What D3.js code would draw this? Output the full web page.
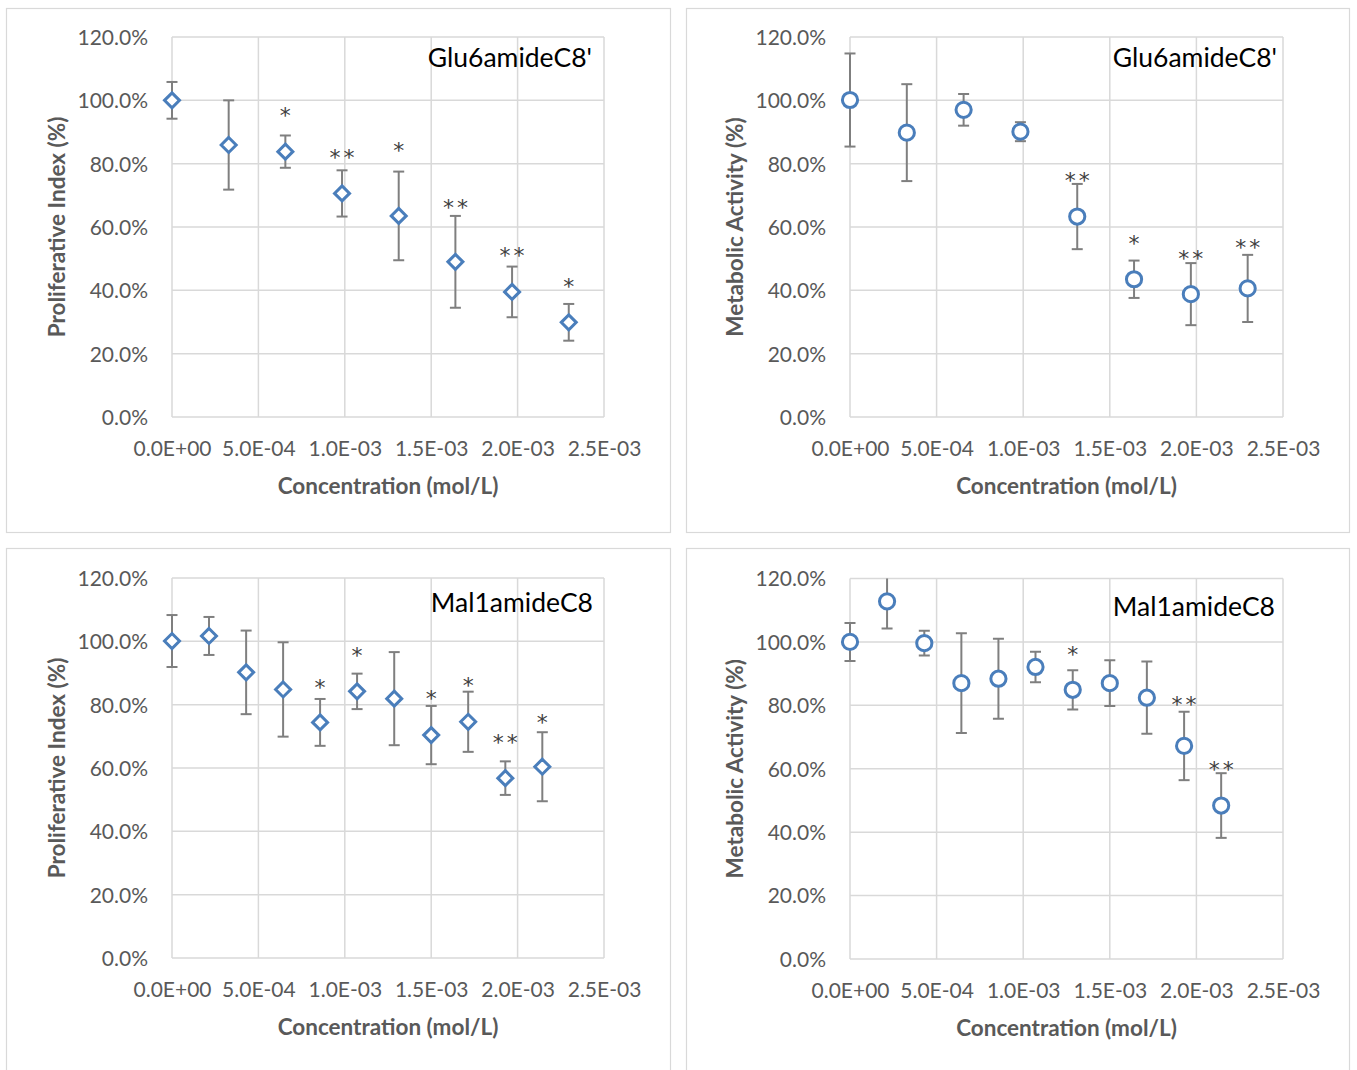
<!DOCTYPE html>
<html>
<head>
<meta charset="utf-8">
<script src="https://cdn.jsdelivr.net/npm/d3@7"></script>
<style>
  html, body { margin: 0; padding: 0; background: #ffffff; }
  svg { display: block; }
</style>
</head>
<body>
<svg id="chart" width="1357" height="1070"></svg>
<script>
// ---------------- DATA ----------------
const xTicks = [0, 0.0005, 0.001, 0.0015, 0.002, 0.0025];
const yTicks = [0, 20, 40, 60, 80, 100, 120];

const gluConc = [0, 3.28e-4, 6.56e-4, 9.84e-4, 1.312e-3, 1.64e-3, 1.968e-3, 2.296e-3];
const gluProlif = [100.0, 85.9, 83.8, 70.6, 63.5, 49.0, 39.5, 29.9];
const gluProlifErr = [5.8, 14.1, 5.1, 7.3, 14.0, 14.5, 8.0, 5.8];
const gluProlifSig = ["", "", "*", "**", "*", "**", "**", "*"];
const gluProlifSigY = [null, null, 95.9, 82.7, 84.9, 66.9, 51.8, 42.0];

const gluMetab = [100.1, 89.8, 97.0, 90.1, 63.3, 43.5, 38.8, 40.6];
const gluMetabErr = [14.7, 15.3, 5.0, 3.0, 10.3, 5.9, 9.8, 10.6];
const gluMetabSig = ["", "", "", "", "**", "*", "**", "**"];
const gluMetabSigY = [null, null, null, null, 75.4, 55.6, 50.6, 54.3];

const malConc = [0, 2.14e-4, 4.29e-4, 6.43e-4, 8.57e-4, 1.071e-3, 1.286e-3, 1.5e-3, 1.714e-3, 1.929e-3, 2.143e-3];
const malProlif = [100.1, 101.7, 90.2, 84.8, 74.4, 84.2, 81.9, 70.4, 74.6, 56.8, 60.4];
const malProlifErr = [8.2, 6.0, 13.2, 14.9, 7.4, 5.6, 14.7, 9.2, 9.5, 5.3, 10.9];
const malProlifSig = ["", "", "", "", "*", "*", "", "*", "*", "**", "*"];
const malProlifSigY = [null, null, null, null, 86.2, 96.2, null, 82.5, 86.7, 68.6, 74.9];

const malMetab = [100.0, 112.8, 99.6, 87.0, 88.4, 92.1, 84.9, 87.0, 82.4, 67.2, 48.4];
const malMetabErr = [6.0, 8.6, 3.9, 15.7, 12.6, 4.8, 6.2, 7.2, 11.4, 10.8, 10.2];
const malMetabSig = ["", "", "", "", "", "", "*", "", "", "**", "**"];
const malMetabSigY = [null, null, null, null, null, null, 96.8, null, null, 81.0, 60.6];

const panelTitles = ["Glu6amideC8'", "Glu6amideC8'", "Mal1amideC8", "Mal1amideC8"];
const yTitles = ["Proliferative Index (%)", "Metabolic Activity (%)", "Proliferative Index (%)", "Metabolic Activity (%)"];
const xTitle = "Concentration (mol/L)";

// ---------------- LAYOUT ----------------
const panels = [
  { box: [6.5, 8.5, 664, 524], plot: [172, 604, 37, 417], title: [592, 57], marker: "diamond",
    x: gluConc, y: gluProlif, e: gluProlifErr, s: gluProlifSig, sy: gluProlifSigY, t: 0 },
  { box: [686.5, 8.5, 663, 524], plot: [850, 1283, 37, 417], title: [1277, 57], marker: "circle",
    x: gluConc, y: gluMetab, e: gluMetabErr, s: gluMetabSig, sy: gluMetabSigY, t: 1 },
  { box: [6.5, 548.5, 664, 540], plot: [172, 604, 578, 958], title: [593, 602], marker: "diamond",
    x: malConc, y: malProlif, e: malProlifErr, s: malProlifSig, sy: malProlifSigY, t: 2 },
  { box: [686.5, 548.5, 663, 540], plot: [850, 1283, 578.5, 959], title: [1275, 606], marker: "circle",
    x: malConc, y: malMetab, e: malMetabErr, s: malMetabSig, sy: malMetabSigY, t: 3 }
];

const FONT = "Lato, 'Open Sans', sans-serif";
const STARFONT = "'DejaVu Sans', sans-serif";
const BLUE = "#4a7ebb";
const GRID = "#d9d9d9";
const TXT = "#595959";
const ERR = "#7f7f7f";

function fmtSci(d) {
  if (d === 0) return "0.0E+00";
  const e = Math.floor(Math.log10(Math.abs(d)) + 1e-9);
  const m = d / Math.pow(10, e);
  const sign = e < 0 ? "-" : "+";
  return m.toFixed(1) + "E" + sign + String(Math.abs(e)).padStart(2, "0");
}

const svg = d3.select("#chart");

panels.forEach((p, pi) => {
  const g = svg.append("g");
  g.append("rect")
    .attr("x", p.box[0]).attr("y", p.box[1])
    .attr("width", p.box[2]).attr("height", p.box[3])
    .attr("fill", "#fff").attr("stroke", "#d9d9d9").attr("stroke-width", 1.2);

  const [px0, px1, py0, py1] = p.plot;
  const x = d3.scaleLinear().domain([0, 0.0025]).range([px0, px1]);
  const y = d3.scaleLinear().domain([0, 120]).range([py1, py0]);

  // grid
  g.append("g").selectAll("line").data(yTicks).join("line")
    .attr("x1", px0).attr("x2", px1)
    .attr("y1", d => y(d)).attr("y2", d => y(d))
    .attr("stroke", GRID).attr("stroke-width", 1.5);
  g.append("g").selectAll("line").data(xTicks).join("line")
    .attr("y1", py0).attr("y2", py1)
    .attr("x1", d => x(d)).attr("x2", d => x(d))
    .attr("stroke", GRID).attr("stroke-width", 1.5);

  // axes (labels only)
  const ya = g.append("g").attr("transform", `translate(${px0 - 24},0)`)
    .call(d3.axisLeft(y).tickValues(yTicks).tickFormat(d => d.toFixed(1) + "%").tickSize(0).tickPadding(0));
  ya.select(".domain").remove();
  ya.selectAll("text").attr("font-family", FONT).attr("font-size", 21).attr("fill", TXT).attr("dy", "0.35em");

  const xa = g.append("g").attr("transform", `translate(0,${py1 + 24})`)
    .call(d3.axisBottom(x).tickValues(xTicks).tickFormat(fmtSci).tickSize(0).tickPadding(0));
  xa.select(".domain").remove();
  xa.selectAll("text").attr("font-family", FONT).attr("font-size", 21).attr("fill", TXT).attr("dy", "0.71em");

  // axis titles
  g.append("text")
    .attr("x", (px0 + px1) / 2).attr("y", py1 + 68)
    .attr("text-anchor", "middle").attr("dominant-baseline", "central")
    .attr("font-family", FONT).attr("font-weight", "bold").attr("font-size", 22.5)
    .attr("fill", TXT).text(xTitle);
  g.append("text")
    .attr("transform", `translate(${px0 - 116},${(py0 + py1) / 2}) rotate(-90)`)
    .attr("text-anchor", "middle").attr("dominant-baseline", "central")
    .attr("font-family", FONT).attr("font-weight", "bold").attr("font-size", 22.5)
    .attr("fill", TXT).text(yTitles[p.t]);

  // panel title
  g.append("text")
    .attr("x", p.title[0]).attr("y", p.title[1])
    .attr("text-anchor", "end").attr("dominant-baseline", "central")
    .attr("font-family", FONT).attr("font-size", 26.5).attr("fill", "#000")
    .text(panelTitles[p.t]);

  // clip
  const cid = "clip" + pi;
  svg.append("clipPath").attr("id", cid).append("rect")
    .attr("x", px0 - 20).attr("y", py0).attr("width", px1 - px0 + 40).attr("height", py1 - py0);

  const pts = p.x.map((cx, i) => ({ cx, v: p.y[i], e: p.e[i], s: p.s[i], sy: p.sy[i] }));

  const eg = g.append("g").attr("clip-path", `url(#${cid})`);
  const cap = 5.5;
  pts.forEach(d => {
    const xx = x(d.cx), yt = y(d.v + d.e), yb = y(d.v - d.e);
    eg.append("line").attr("x1", xx).attr("x2", xx).attr("y1", yt).attr("y2", yb)
      .attr("stroke", ERR).attr("stroke-width", 2);
    eg.append("line").attr("x1", xx - cap).attr("x2", xx + cap).attr("y1", yt).attr("y2", yt)
      .attr("stroke", ERR).attr("stroke-width", 2);
    eg.append("line").attr("x1", xx - cap).attr("x2", xx + cap).attr("y1", yb).attr("y2", yb)
      .attr("stroke", ERR).attr("stroke-width", 2);
  });

  // markers
  const mg = g.append("g");
  if (p.marker === "diamond") {
    const r = 7.5;
    mg.selectAll("path").data(pts).join("path")
      .attr("d", d => {
        const cx = x(d.cx), cy = y(d.v);
        return `M${cx},${cy - r}L${cx + r},${cy}L${cx},${cy + r}L${cx - r},${cy}Z`;
      })
      .attr("fill", "#fff").attr("stroke", BLUE).attr("stroke-width", 3).attr("stroke-linejoin", "miter");
  } else {
    mg.selectAll("circle").data(pts).join("circle")
      .attr("cx", d => x(d.cx)).attr("cy", d => y(d.v)).attr("r", 7.6)
      .attr("fill", "#fff").attr("stroke", BLUE).attr("stroke-width", 3);
  }

  // significance stars
  const fs = 22;
  g.append("g").selectAll("text").data(pts.filter(d => d.s)).join("text")
    .attr("x", d => x(d.cx)).attr("y", d => y(d.sy) + 0.44 * fs)
    .attr("text-anchor", "middle")
    .attr("font-family", STARFONT).attr("font-size", fs).attr("fill", "#404040")
    .attr("letter-spacing", d => d.s.length > 1 ? 3 : 0)
    .attr("dx", d => d.s.length > 1 ? 1.5 : 0)
    .text(d => d.s);
});
</script>
</body>
</html>
